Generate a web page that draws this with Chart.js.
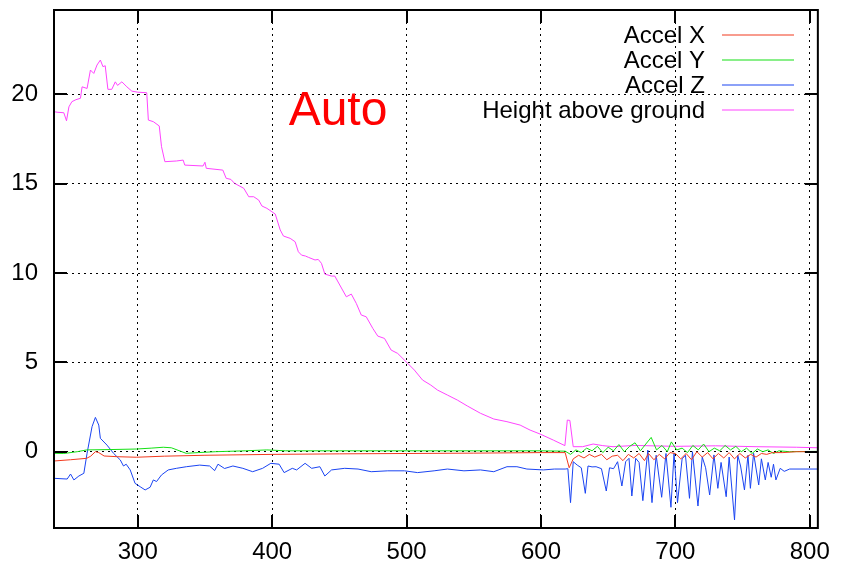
<!DOCTYPE html>
<html>
<head>
<meta charset="utf-8">
<script src="https://cdn.jsdelivr.net/npm/chart.js@4.4.1/dist/chart.umd.min.js"></script>
<style>
  body { margin: 0; background: #fff; }
  canvas { display: block; }
</style>
</head>
<body>
<canvas id="accel-chart" width="842" height="567"></canvas>
<script>
// --- tick labels ---
const xTicks = [300, 400, 500, 600, 700, 800];
const yTicks = [0, 5, 10, 15, 20];

// --- series names and colours ---
const seriesNames = ['Accel X', 'Accel Y', 'Accel Z', 'Height above ground'];
const seriesColors = ['#f23a1e', '#14e014', '#1a44f2', '#ff44ff'];

// --- Height above ground ---
const heightTime = [237.7, 240, 245, 247, 248.8, 251, 254, 257.4, 258.6, 262.3, 264.8, 267.3, 269.7, 272.2, 274.1, 275.8, 277.8, 280.7, 283.3, 285, 288.2, 291.9, 295.6, 300, 306.7, 307.9, 311.6, 316, 317.7, 320.2, 328.8, 333.8, 335, 348.6, 350, 351, 363.3, 365.8, 369.3, 372, 378.9, 382.6, 386.3, 390, 392.4, 396.1, 399.8, 402.3, 406, 408.4, 413.4, 417.1, 419.5, 421.9, 424.8, 426.9, 431.9, 434.3, 436.7, 439.2, 444.1, 446.6, 450.3, 455.2, 458.9, 462.6, 466.3, 470, 474.9, 478.6, 483.6, 488.5, 493.4, 500.8, 505.8, 511.9, 518, 523, 530.4, 537.8, 545.2, 555, 564.9, 574.7, 584.5, 591.9, 599.3, 609.2, 617.8, 619.6, 621.5, 624, 631, 638.8, 646, 653.6, 670, 700, 730, 760, 790, 806];
const heightVal = [19.03, 19.0, 18.97, 18.52, 19.3, 19.59, 19.7, 19.78, 20.42, 20.33, 21.36, 21.17, 21.64, 21.92, 21.55, 21.6, 20.28, 20.28, 20.7, 20.5, 20.7, 20.42, 20.18, 20.12, 20.09, 18.56, 18.47, 18.23, 17.07, 16.23, 16.27, 16.32, 16.04, 15.99, 16.2, 15.86, 15.76, 15.3, 15.24, 15.02, 14.74, 14.27, 14.27, 14.08, 13.75, 13.62, 13.43, 13.3, 12.41, 12.07, 11.94, 11.75, 11.19, 11.0, 10.95, 10.88, 10.73, 10.76, 10.54, 9.94, 9.83, 9.83, 9.33, 8.67, 8.82, 8.3, 7.65, 7.55, 6.9, 6.47, 6.34, 5.69, 5.5, 4.95, 4.57, 4.01, 3.73, 3.45, 3.17, 2.89, 2.56, 2.15, 1.83, 1.68, 1.49, 1.21, 0.99, 0.65, 0.34, 1.77, 1.75, 0.28, 0.28, 0.43, 0.34, 0.28, 0.35, 0.3, 0.33, 0.28, 0.25, 0.22];

// --- Accel X ---
const accelXTime = [237.7, 250, 262, 265, 268.5, 271, 275, 285, 299, 320, 350, 400, 450, 500, 550, 600, 618, 621, 624, 628, 632, 636, 640, 645, 649, 653, 657, 661, 665, 669, 673, 677, 680, 684, 688, 692, 696, 700, 704, 708, 712, 716, 720, 724, 728, 732, 736, 740, 744, 748, 752, 756, 760, 764, 768, 772, 780, 790, 806];
const accelXVal = [-0.52, -0.45, -0.37, -0.25, 0.0, -0.05, -0.24, -0.28, -0.31, -0.25, -0.2, -0.15, -0.12, -0.1, -0.08, -0.05, -0.05, -0.9, -0.4, -0.2, -0.35, -0.15, -0.3, -0.15, -0.45, -0.25, -0.2, -0.5, -0.15, -0.35, -0.1, -0.5, -0.1, -0.45, -0.15, -0.4, -0.05, -0.1, -0.4, -0.1, -0.45, 0.0, -0.3, -0.05, -0.4, -0.1, -0.35, -0.05, -0.4, -0.1, -0.35, -0.15, -0.3, -0.1, -0.15, -0.05, -0.05, 0.0, 0.0];

// --- Accel Y ---
const accelYTime = [237.7, 245, 255, 262, 280, 299, 310, 319, 325, 336, 345, 358, 380, 396, 410, 450, 500, 550, 600, 618, 622, 626, 630, 634, 638, 642, 646, 650, 654, 658, 662, 666, 670, 674, 678, 682, 686, 690, 694, 697, 701, 705, 709, 713, 717, 721, 725, 729, 733, 737, 741, 745, 749, 753, 757, 761, 765, 769, 773, 777, 785, 806];
const accelYVal = [-0.09, -0.1, 0.0, 0.1, 0.12, 0.15, 0.2, 0.25, 0.22, -0.09, -0.05, 0.0, 0.05, 0.1, 0.05, 0.05, 0.05, 0.05, 0.05, 0.03, -0.15, 0.1, -0.05, 0.2, 0.05, 0.3, -0.05, 0.25, 0.05, 0.4, 0.0, 0.3, 0.5, 0.05, 0.43, 0.8, 0.1, 0.35, 0.0, 0.55, 0.1, 0.2, -0.05, 0.35, 0.1, 0.43, 0.0, 0.2, 0.05, 0.35, 0.1, 0.3, 0.0, 0.2, -0.1, 0.15, 0.0, 0.1, -0.1, 0.05, 0.0, 0.02];

// --- Accel Z ---
const accelZTime = [237.7, 247.5, 250, 252.5, 256.2, 259.9, 262.3, 266, 268.5, 271, 272.2, 277.1, 282, 287, 289.4, 291.4, 294.4, 298, 301.8, 305.5, 309.2, 311.6, 314, 317.7, 322.7, 328.8, 336.2, 346.1, 353.5, 357.2, 359.7, 364.6, 370.8, 378.2, 385.5, 392.9, 399, 405.2, 408.9, 415, 418.2, 424.5, 429.4, 435.5, 439.2, 444.2, 454, 463.9, 473.7, 486, 498.4, 508.2, 520.5, 530.4, 542.7, 555, 564.9, 574.7, 582.1, 589.5, 601.8, 610, 618, 620, 622, 624, 627, 630, 633, 635, 638, 641, 645, 648.6, 651, 654, 657, 660.2, 663, 665.5, 667.6, 670.5, 673, 675.8, 679.5, 682.6, 685.7, 689.8, 693, 696.7, 699, 701.6, 705, 707.5, 710.5, 712.7, 716.8, 720, 722.5, 725.5, 728.7, 731.6, 734, 737.8, 740, 744, 746.4, 748.5, 751.4, 754, 755.8, 758.2, 762, 764, 766.9, 769, 771.3, 773, 774.8, 778, 781, 785, 806];
const accelZVal = [-1.49, -1.53, -1.25, -1.58, -1.36, -1.21, -0.09, 1.4, 1.92, 1.49, 0.75, 0.37, -0.09, -0.46, -0.8, -0.7, -1.02, -1.77, -1.96, -2.14, -1.99, -1.58, -1.67, -1.3, -1.02, -0.93, -0.84, -0.75, -0.8, -1.06, -0.7, -0.94, -0.8, -0.93, -1.12, -0.93, -0.65, -0.7, -1.17, -0.93, -1.02, -0.65, -0.93, -0.84, -1.36, -1.02, -0.93, -0.97, -1.12, -1.07, -1.07, -1.17, -1.07, -0.97, -1.07, -1.02, -1.12, -0.84, -0.84, -0.97, -1.02, -0.97, -0.97, -0.95, -2.85, -0.56, -0.75, -0.9, -2.33, -0.8, -0.85, -0.84, -0.95, -2.2, -0.9, -0.95, -0.56, -1.92, -0.56, -0.37, -2.48, -0.37, -0.6, -2.74, 0.09, -2.85, -0.2, -2.55, -0.1, -3.11, -0.09, -2.85, -0.4, -0.2, -2.61, 0.0, -3.04, -0.3, -0.9, -2.42, -0.18, -2.05, -0.6, -2.52, -0.3, -3.82, -0.2, -0.8, -2.14, -0.2, -2.05, -0.09, -1.86, -0.4, -1.58, -0.6, -1.43, -0.7, -1.58, -0.93, -1.1, -0.97, -0.97];

const FONT = 'Liberation Sans, Arial, Helvetica, sans-serif';

function toPoints(times, values) {
    return times.map((t, i) => ({ x: t, y: values[i] }));
}

// gnuplot-style frame, inward ticks, key and label
const gnuplotDecor = {
    id: 'gnuplotDecor',
    afterDatasetsDraw(chart) {
        const { ctx, chartArea: a, scales: { x, y } } = chart;
        ctx.save();
        ctx.strokeStyle = '#000';
        ctx.lineWidth = 2;
        ctx.strokeRect(a.left, a.top, a.right - a.left, a.bottom - a.top);
        const len = 13;
        ctx.beginPath();
        xTicks.forEach(v => {
            const px = Math.round(x.getPixelForValue(v));
            ctx.moveTo(px, a.bottom); ctx.lineTo(px, a.bottom - len);
            ctx.moveTo(px, a.top); ctx.lineTo(px, a.top + len);
        });
        yTicks.forEach(v => {
            const py = Math.round(y.getPixelForValue(v));
            ctx.moveTo(a.left, py); ctx.lineTo(a.left + len, py);
            ctx.moveTo(a.right, py); ctx.lineTo(a.right - len, py);
        });
        ctx.stroke();
        ctx.restore();
    },
    afterDraw(chart) {
        const { ctx } = chart;
        ctx.save();
        // key
        ctx.font = '24px ' + FONT;
        ctx.textAlign = 'right';
        ctx.textBaseline = 'middle';
        seriesNames.forEach((name, i) => {
            const rowY = 35 + i * 25;
            ctx.fillStyle = '#000';
            ctx.fillText(name, 705, rowY + 1);
            ctx.strokeStyle = seriesColors[i];
            ctx.lineWidth = 1.2;
            ctx.beginPath();
            ctx.moveTo(722, rowY);
            ctx.lineTo(794, rowY);
            ctx.stroke();
        });
        // label
        ctx.font = '48px ' + FONT;
        ctx.textAlign = 'center';
        ctx.fillStyle = '#ff0000';
        ctx.fillText('Auto', 338, 112);
        ctx.restore();
    }
};

const ctx = document.getElementById('accel-chart').getContext('2d');
new Chart(ctx, {
    type: 'line',
    data: {
        datasets: [
            { label: seriesNames[0], data: toPoints(accelXTime, accelXVal), borderColor: seriesColors[0] },
            { label: seriesNames[1], data: toPoints(accelYTime, accelYVal), borderColor: seriesColors[1] },
            { label: seriesNames[2], data: toPoints(accelZTime, accelZVal), borderColor: seriesColors[2] },
            { label: seriesNames[3], data: toPoints(heightTime, heightVal), borderColor: seriesColors[3] }
        ]
    },
    options: {
        responsive: false,
        animation: false,
        devicePixelRatio: 1,
        layout: { padding: { top: 10, right: 18, left: 0, bottom: 0 } },
        elements: {
            line: { borderWidth: 1, tension: 0 },
            point: { radius: 0 }
        },
        plugins: {
            legend: { display: false },
            tooltip: { enabled: false }
        },
        scales: {
            x: {
                type: 'linear',
                min: 237.7,
                max: 806,
                afterBuildTicks: scale => { scale.ticks = xTicks.map(v => ({ value: v })); },
                afterFit: scale => { scale.height = 39; },
                ticks: { color: '#000', font: { family: FONT, size: 24, lineHeight: 1 }, padding: 12, maxRotation: 0 },
                grid: { color: '#000', lineWidth: 1, drawTicks: false },
                border: { display: false, dash: [2, 4] }
            },
            y: {
                type: 'linear',
                min: -4.27,
                max: 24.72,
                afterBuildTicks: scale => { scale.ticks = yTicks.map(v => ({ value: v })); },
                afterFit: scale => { scale.width = 54; },
                ticks: { color: '#000', font: { family: FONT, size: 24, lineHeight: 0.8 }, padding: 0 },
                grid: { color: '#000', lineWidth: 1, drawTicks: true, tickLength: 16, tickColor: 'rgba(0,0,0,0)' },
                border: { display: false, dash: [2, 4] }
            }
        }
    },
    plugins: [gnuplotDecor]
});
</script>
</body>
</html>
